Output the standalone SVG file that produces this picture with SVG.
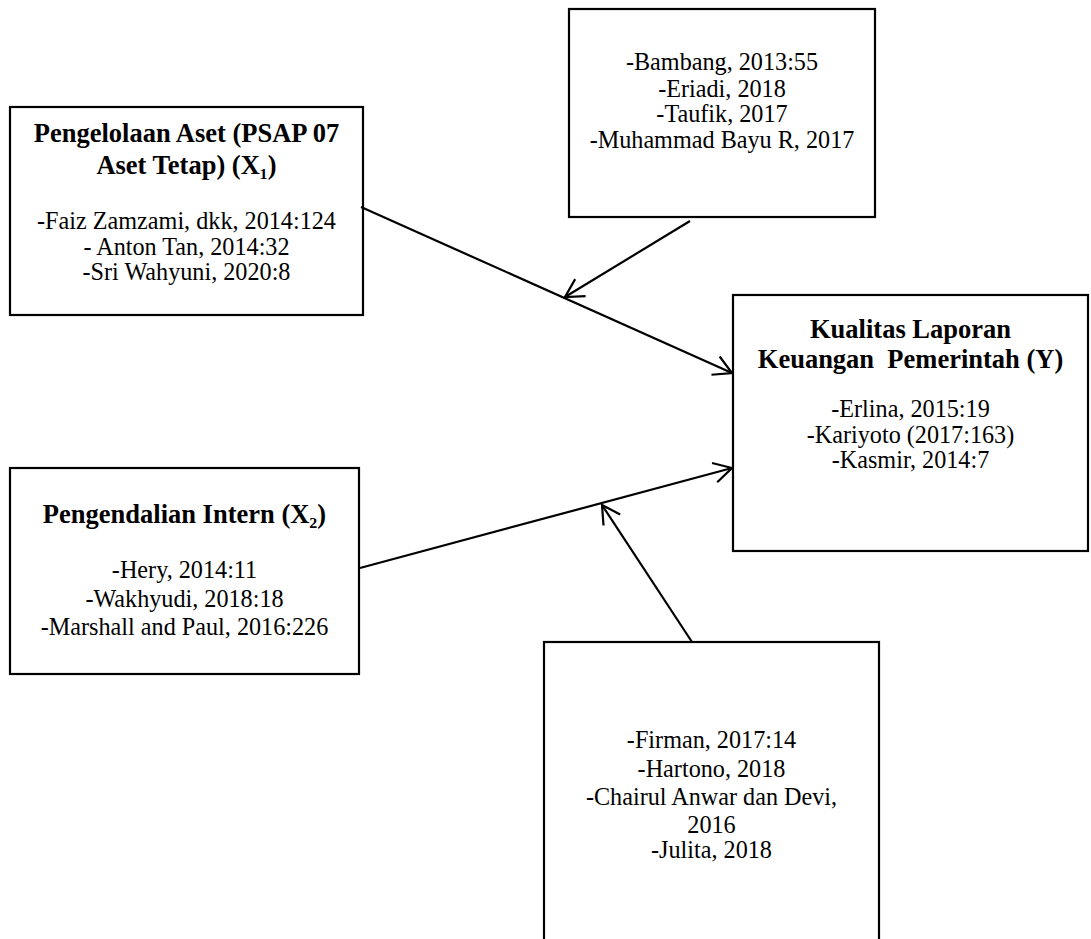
<svg xmlns="http://www.w3.org/2000/svg" width="1091" height="939" viewBox="0 0 1091 939">
<style>
.box{fill:#fff;stroke:#000;stroke-width:2.2}
.t{font-family:"Liberation Serif","Times New Roman",serif;font-size:24.2px;fill:#000;text-anchor:middle}
.b{font-weight:bold;font-size:26.5px}
.c{stroke:#000;stroke-width:2.2;fill:none}
</style>
<defs>
<marker id="arr" markerUnits="userSpaceOnUse" markerWidth="24" markerHeight="24" refX="20" refY="11" orient="auto" viewBox="0 0 24 22">
<path d="M2,1 L20,11 L2,21" fill="none" stroke="#000" stroke-width="2.2"/>
</marker>
</defs>
<rect width="1091" height="939" fill="#fff"/>
<g id="node-x1">
<rect class="box" x="10" y="107" width="353" height="208"/>
<text class="t b" x="186.5" y="142">Pengelolaan Aset (PSAP 07</text>
<text class="t b" x="186.5" y="174">Aset Tetap) (X₁)</text>
<text class="t" x="186.5" y="229">-Faiz Zamzami, dkk, 2014:124</text>
<text class="t" x="186.5" y="255">- Anton Tan, 2014:32</text>
<text class="t" x="186.5" y="280">-Sri Wahyuni, 2020:8</text>
</g>
<g id="node-top">
<rect class="box" x="569" y="9" width="306" height="208"/>
<text class="t" x="722" y="70">-Bambang, 2013:55</text>
<text class="t" x="722" y="97">-Eriadi, 2018</text>
<text class="t" x="722" y="122">-Taufik, 2017</text>
<text class="t" x="722" y="148">-Muhammad Bayu R, 2017</text>
</g>
<g id="node-y">
<rect class="box" x="733" y="295" width="355" height="256"/>
<text class="t b" x="910.5" y="338">Kualitas Laporan</text>
<text class="t b" x="910.5" y="368" xml:space="preserve">Keuangan  Pemerintah (Y)</text>
<text class="t" x="910.5" y="417">-Erlina, 2015:19</text>
<text class="t" x="910.5" y="443">-Kariyoto (2017:163)</text>
<text class="t" x="910.5" y="468">-Kasmir, 2014:7</text>
</g>
<g id="node-x2">
<rect class="box" x="10" y="468" width="349" height="206"/>
<text class="t b" x="184.5" y="523">Pengendalian Intern (X₂)</text>
<text class="t" x="184.5" y="578">-Hery, 2014:11</text>
<text class="t" x="184.5" y="607">-Wakhyudi, 2018:18</text>
<text class="t" x="184.5" y="635">-Marshall and Paul, 2016:226</text>
</g>
<g id="node-bottom">
<rect class="box" x="544" y="642" width="335" height="320"/>
<text class="t" x="711.5" y="748">-Firman, 2017:14</text>
<text class="t" x="711.5" y="777">-Hartono, 2018</text>
<text class="t" x="711.5" y="805">-Chairul Anwar dan Devi,</text>
<text class="t" x="711.5" y="833">2016</text>
<text class="t" x="711.5" y="858">-Julita, 2018</text>
</g>
<g id="connectors">
<line class="c" x1="361" y1="207" x2="732" y2="373" marker-end="url(#arr)"/>
<line class="c" x1="360" y1="568" x2="732" y2="468" marker-end="url(#arr)"/>
<line class="c" x1="690" y1="221" x2="565" y2="297" marker-end="url(#arr)"/>
<line class="c" x1="692" y1="642" x2="602" y2="505" marker-end="url(#arr)"/>
</g>
</svg>
